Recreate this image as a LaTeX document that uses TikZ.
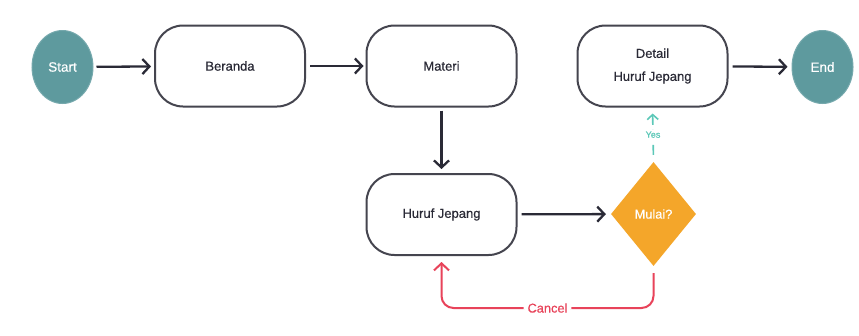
\documentclass[tikz,border=0pt]{standalone}
\usepackage{fontspec}
\setmainfont{Liberation Sans}[FakeBold=0.5]
\usetikzlibrary{arrows.meta,shapes.geometric,calc}
\definecolor{ink}{HTML}{2A2A36}
\definecolor{edge}{HTML}{45454F}
\definecolor{termfill}{HTML}{5E9A9E}
\definecolor{decfill}{HTML}{F4A62A}
\definecolor{cancelred}{HTML}{E8435A}
\definecolor{yesteal}{HTML}{5CC8B8}
\tikzset{
  term/.style={ellipse, fill=termfill, draw=termfill!85!white, line width=1pt,
    minimum width=61pt, minimum height=73pt, inner sep=0pt,
    text=white, font=\fontsize{13.5}{16}\selectfont},
  stepbox/.style={rectangle, rounded corners=28pt, draw=edge, line width=2pt,
    fill=white, minimum width=150pt, minimum height=81pt, align=center,
    text=ink, font=\fontsize{13}{23}\selectfont},
  decision/.style={diamond, fill=decfill, minimum width=85pt, minimum height=104pt,
    inner sep=0pt, text=white, font=\fontsize{12.8}{14}\selectfont},
  flow/.style={draw=ink, line width=2.3pt, -{Straight Barb[length=7pt,width=15pt,line width=2.3pt]}},
  yesline/.style={draw=yesteal, line width=1.6pt, dash pattern=on 10pt off 5pt,
    -{Straight Barb[length=5pt,width=11pt,line width=1.6pt]}},
  cancelline/.style={draw=cancelred, line width=2pt, rounded corners=12pt,
    -{Straight Barb[length=7pt,width=15pt,line width=2pt]}},
}
\begin{document}
\begin{tikzpicture}[x=1pt,y=-1pt]
  \useasboundingbox[fill=white] (0,0) rectangle (859,335);

  % top row
  \node[term]     (start) at (62.5,67)  {Start};
  \node[stepbox]  (ber)   at (230,66)   {Beranda};
  \node[stepbox]  (mat)   at (441.5,66) {Materi};
  \node[stepbox]  (det)   at (652.5,66) {Detail\\Huruf Jepang};
  \node[term]     (end)   at (822.5,67) {End};

  % second row
  \node[stepbox]  (huruf) at (441.5,214.5) {Huruf Jepang};
  \node[decision] (dec)   at (653.5,214)   {Mulai?};

  % main flow
  \draw[flow, shorten <=3pt, shorten >=3pt] (start) -- (ber);
  \draw[flow, shorten <=4pt, shorten >=2pt] (ber) -- (mat);
  \draw[flow, shorten <=4pt, shorten >=4pt] (det) -- (end);
  \draw[flow, shorten <=3pt, shorten >=4pt] (mat) -- (huruf);
  \draw[flow, shorten <=4pt, shorten >=5pt] (huruf) -- (dec);

  % decision outcomes
  \draw[yesline, shorten <=7pt, shorten >=6pt] (dec.north) --
    node[fill=white, text=yesteal, inner sep=2pt, font=\fontsize{9}{10}\selectfont] {Yes}
    (det.south);
  \coordinate (cr) at (653.5,308);
  \coordinate (cl) at (441.5,308);
  \draw[cancelline, shorten <=7pt, shorten >=6pt] (dec.south) -- (cr) --
    node[fill=white, text=cancelred, inner sep=4pt, font=\fontsize{12.8}{14}\selectfont] {Cancel}
    (cl) -- (huruf.south);
\end{tikzpicture}
\end{document}
